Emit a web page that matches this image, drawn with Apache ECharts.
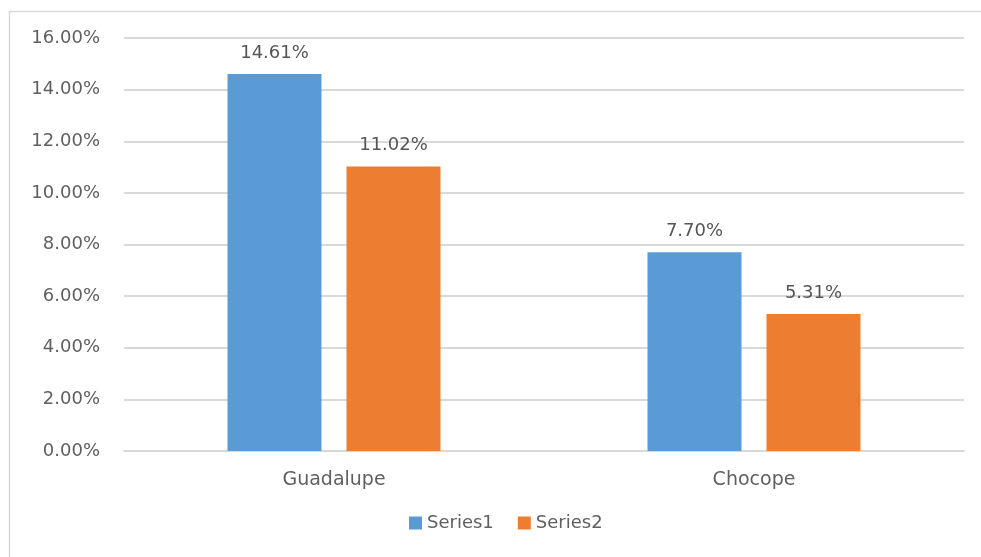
<!DOCTYPE html>
<html>
<head>
<meta charset="utf-8">
<script src="https://cdn.jsdelivr.net/npm/echarts@6/dist/echarts.min.js"></script>
<style>
  html, body { margin: 0; padding: 0; background: #fff; }
  #chart { width: 981px; height: 557px; }
</style>
</head>
<body>
<div id="chart"></div>
<script>
// Share of each town, in percent
const categories = ['Guadalupe', 'Chocope'];
const series1 = [14.61, 7.70];
const series2 = [11.02, 5.31];
const seriesNames = ['Series1', 'Series2'];

const chart = echarts.init(document.getElementById('chart'));
const textColor = '#5f5f5f';
const font = '"DejaVu Sans", "Liberation Sans", sans-serif';

const pctLabel = {
  show: true,
  position: 'top',
  distance: 12,
  color: '#555555',
  fontSize: 18,
  fontFamily: font,
  formatter: p => p.value.toFixed(2) + '%'
};

chart.setOption({
  animation: false,
  backgroundColor: '#fff',
  graphic: [{
    type: 'rect',
    shape: { x: 9.5, y: 11.5, width: 990, height: 560 },
    style: { fill: 'none', stroke: '#d9d9d9', lineWidth: 1.5 },
    silent: true
  }],
  grid: { left: 124, right: 17, top: 38, bottom: 106 },
  legend: {
    bottom: 20,
    left: 404,
    itemWidth: 13,
    itemHeight: 13,
    itemGap: 24,
    icon: 'rect',
    textStyle: { color: textColor, fontSize: 18, fontFamily: font },
    data: seriesNames
  },
  xAxis: {
    type: 'category',
    data: categories,
    axisLine: { show: true, lineStyle: { color: '#d9d9d9', width: 2 } },
    axisTick: { show: false },
    axisLabel: { color: textColor, fontSize: 19, fontFamily: font, margin: 20 }
  },
  yAxis: {
    type: 'value',
    min: 0,
    max: 16,
    interval: 2,
    axisLine: { show: false },
    axisTick: { show: false },
    splitLine: { lineStyle: { color: '#d9d9d9', width: 2 } },
    axisLabel: {
      color: textColor, fontSize: 18, fontFamily: font, margin: 24,
      formatter: v => v.toFixed(2) + '%'
    }
  },
  series: [
    {
      name: seriesNames[0], type: 'bar', data: series1,
      barWidth: 94, barGap: '26.6%',
      itemStyle: { color: '#5b9bd5' },
      label: pctLabel
    },
    {
      name: seriesNames[1], type: 'bar', data: series2,
      barWidth: 94,
      itemStyle: { color: '#ed7d31' },
      label: pctLabel
    }
  ]
});
</script>
</body>
</html>
